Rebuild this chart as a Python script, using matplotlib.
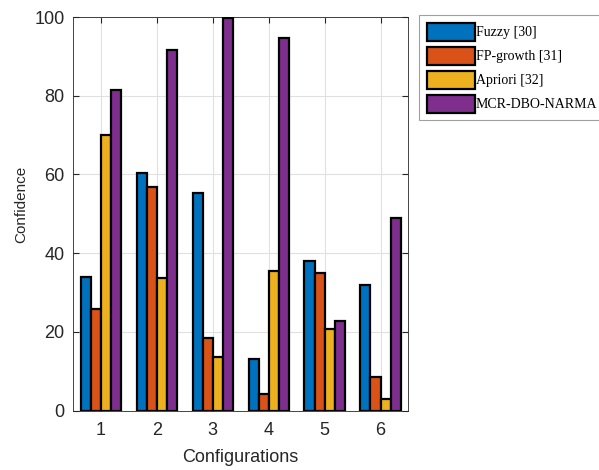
import numpy as np
import matplotlib
matplotlib.use("Agg")
import matplotlib.pyplot as plt

configs = [1, 2, 3, 4, 5, 6]
fuzzy = [34.0, 60.3, 55.2, 13.1, 37.9, 31.9]
fp_growth = [25.8, 56.9, 18.4, 4.2, 35.1, 8.6]
apriori = [70.0, 33.6, 13.6, 35.5, 20.7, 2.9]
mcr = [81.5, 91.6, 99.8, 94.6, 22.7, 48.9]

labels = ["Fuzzy [30]", "FP-growth [31]", "Apriori [32]", "MCR-DBO-NARMA"]
colors = ["#0072BD", "#D95319", "#EDB120", "#7E2F8E"]
series = [fuzzy, fp_growth, apriori, mcr]

fig = plt.figure(figsize=(5.99, 4.70), dpi=100)
ax = fig.add_axes([73 / 599, 1 - 410.7 / 470, (408.5 - 73) / 599, (410.7 - 17) / 470])

x = np.array(configs, dtype=float)
w = 0.18
offsets = [-1.5 * w, -0.5 * w, 0.5 * w, 1.5 * w]
handles = []
for vals, off, c, lab in zip(series, offsets, colors, labels):
    b = ax.bar(x + off, vals, width=w, color=c, edgecolor="black",
               linewidth=1.6, label=lab, zorder=3)
    handles.append(b)

ax.set_xlim(0.5, 6.5)
ax.set_ylim(0, 100)
ax.set_xticks(configs)
ax.set_yticks([0, 20, 40, 60, 80, 100])
ax.grid(True, color="#e0e0e0", linewidth=0.8, zorder=0)
ax.tick_params(direction="in", top=True, right=True, length=4,
               labelsize=13, colors="#262626", labelcolor="#262626")
ax.tick_params(axis="x", pad=8)
ax.tick_params(axis="y", pad=6)
for s in ax.spines.values():
    s.set_color("#262626")
    s.set_linewidth(0.6)

ax.set_xlabel("Configurations", fontsize=13, color="#262626",
              family="Liberation Sans", labelpad=7)
ax.set_ylabel("Confidence", fontsize=11, color="#262626",
              family="Liberation Sans")
ax.yaxis.set_label_coords(-0.134, 0.525)
for t in ax.get_xticklabels() + ax.get_yticklabels():
    t.set_family("Liberation Sans")

leg = fig.legend(handles=handles, loc="upper left",
                 bbox_to_anchor=(419 / 599, 1 - 15 / 470), borderaxespad=0,
                 prop={"family": "Liberation Serif", "size": 10},
                 handlelength=3.45, handleheight=1.62, handletextpad=0.08,
                 labelspacing=0.43, borderpad=0.55, fancybox=False,
                 framealpha=1)
leg.get_frame().set_edgecolor("#a0a0a0")
leg.get_frame().set_linewidth(0.8)

fig.savefig("out.png", dpi=100)
